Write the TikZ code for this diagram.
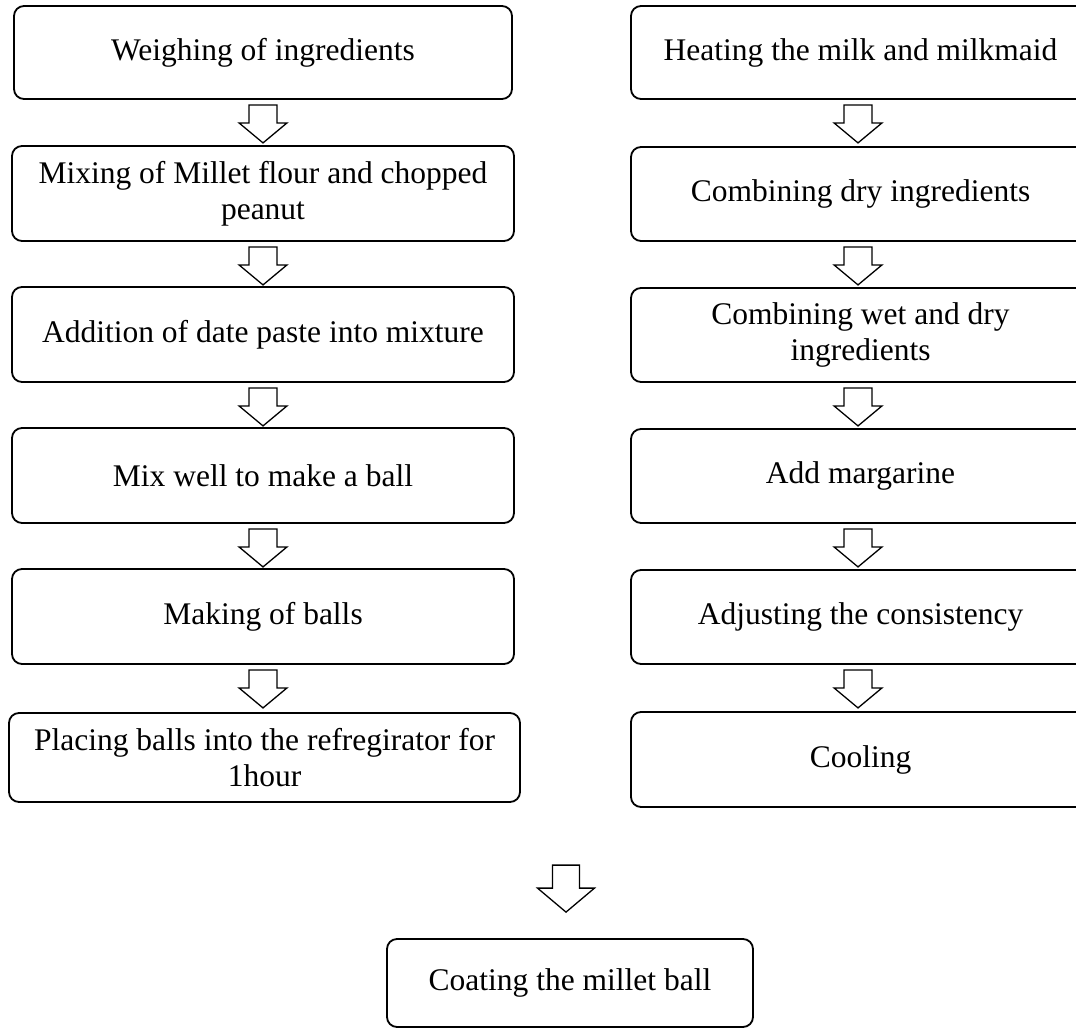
\documentclass[tikz,border=0pt]{standalone}
\usepackage{fontspec}
\setmainfont{Liberation Serif}
\usetikzlibrary{calc}
\tikzset{
  box/.style={draw, line width=1.8pt, rounded corners=10pt, align=center, inner sep=0pt,
    font=\fontsize{31.5}{36}\selectfont},
  pics/darrow/.style n args={4}{code={
    \draw[line width=1.3pt, line join=miter, fill=white]
      (-#1,0) -- (#1,0) -- (#1,#3) -- (#2,#3) -- (0,#3+#4) -- (-#2,#3) -- (-#1,#3) -- cycle;}},
}
\begin{document}
\begin{tikzpicture}[x=1pt,y=-1pt]
\path[use as bounding box, clip] (0,0) rectangle (1076,1028);
\fill[white] (0,0) rectangle (1076,1028);

% left column
\node[box, minimum width=498pt, minimum height=93pt] (l1) at (263,52.5) {Weighing of ingredients};
\node[box, minimum width=502pt, minimum height=95pt] (l2) at (263,193.5) {Mixing of Millet flour and chopped\\peanut};
\node[box, minimum width=502pt, minimum height=95pt] (l3) at (263,334.5) {Addition of date paste into mixture};
\node[box, minimum width=502pt, minimum height=95pt] (l4) at (263,475.5) {Mix well to make a ball};
\node[box, minimum width=502pt, minimum height=95pt] (l5) at (263,616.5) {Making of balls};
\node[box, minimum width=511pt, minimum height=89pt] (l6) at (264.5,757.5) {Placing balls into the refregirator for\\1hour};

% right column
\node[box, minimum width=459pt, minimum height=93pt] (r1) at (860.5,52.5) {Heating the milk and milkmaid};
\node[box, minimum width=459pt, minimum height=94pt] (r2) at (860.5,194) {Combining dry ingredients};
\node[box, minimum width=459pt, minimum height=94pt] (r3) at (860.5,335) {Combining wet and dry\\ingredients};
\node[box, minimum width=459pt, minimum height=94pt] (r4) at (860.5,476) {Add margarine};
\node[box, minimum width=459pt, minimum height=94pt] (r5) at (860.5,617) {Adjusting the consistency};
\node[box, minimum width=459pt, minimum height=95pt] (r6) at (860.5,759.5) {Cooling};

% bottom
\node[box, minimum width=366pt, minimum height=88pt] (b) at (570,983) {Coating the millet ball};

% block arrows
\foreach \a/\b in {l1/l2,l2/l3,l3/l4,l4/l5,l5/l6}{
  \pic at ($(\a.south)+(0,5)$) {darrow={14}{24}{18}{20}};
}
\foreach \a/\b in {r1/r2,r2/r3,r3/r4,r4/r5,r5/r6}{
  \pic at ($(\a.south)+(-2.5,5)$) {darrow={14}{24}{18}{20}};
}
\pic at ($(b.north)+(-4,-73)$) {darrow={13.5}{28.5}{23}{24}};
\end{tikzpicture}
\end{document}
